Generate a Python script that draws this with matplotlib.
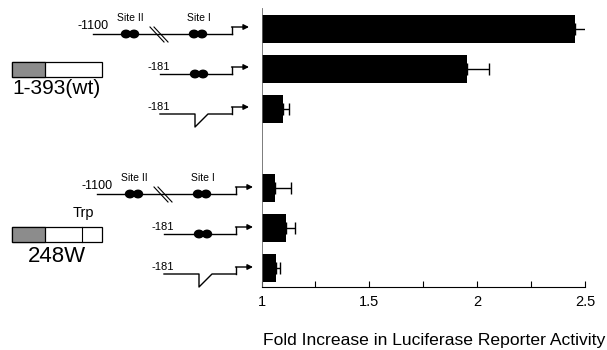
import matplotlib.pyplot as plt
from matplotlib.patches import Ellipse, Rectangle

plt.rcParams["font.family"] = ["Liberation Sans", "DejaVu Sans"]

# Fold increase per construct (top: wt 1-393, bottom: 248W)
positions = [0, 1, 2, 4, 5, 6]
fold_values = [2.454, 1.955, 1.10, 1.063, 1.114, 1.067]
fold_errors = [0.081, 0.10, 0.029, 0.072, 0.040, 0.020]
promoter_kinds = ["long", "short", "deleted", "long", "short", "deleted"]
protein_labels = ["1-393(wt)", "248W"]
x_ticks = [1, 1.5, 2, 2.5]
x_tick_labels = ["1", "1.5", "2", "2.5"]
x_minor = [1.25, 1.75, 2.25]

W, H = 607, 350
fig = plt.figure(figsize=(W / 100, H / 100), dpi=100)

# overlay in pixel units for the schematic drawings
ov = fig.add_axes([0, 0, 1, 1])
ov.set_xlim(0, W)
ov.set_ylim(H, 0)
ov.axis("off")

ax = fig.add_axes([261.5 / W, 1 - 287 / H, (585 - 261.5) / W, 279 / H])
ax.barh(
    positions,
    [v - 1 for v in fold_values],
    left=1,
    height=0.7,
    color="black",
    xerr=[[0] * len(fold_errors), fold_errors],
    error_kw=dict(ecolor="black", elinewidth=1.0, capsize=4, capthick=1.0),
)
ax.set_xlim(1, 2.5)
ax.set_ylim(6.475, -0.525)
ax.set_xticks(x_ticks)
ax.set_xticklabels(x_tick_labels, fontsize=10.5)
ax.set_xticks(x_minor, minor=True)
ax.tick_params(axis="x", which="both", direction="in", length=4, width=0.8, pad=6)
ax.set_yticks([])
ax.spines["top"].set_visible(False)
ax.spines["right"].set_visible(False)
ax.spines["left"].set_color("#666666")
ax.spines["left"].set_linewidth(0.6)
fig.text(434 / W, 1 - 340 / H, "Fold Increase in Luciferase Reporter Activity",
         ha="center", va="center", fontsize=12.6)

LW = 1.0


def dots(x0, y):
    for cx in (x0, x0 + 8):
        ov.add_patch(Ellipse((cx, y), 9, 7.5, color="black"))


def start_arrow(xc, y):
    ov.plot([xc, xc], [y, y - 7], color="black", lw=LW)
    ov.annotate("", xy=(xc + 17, y - 7), xytext=(xc - 0.5, y - 7),
                arrowprops=dict(arrowstyle="-|>", color="black", lw=LW,
                                mutation_scale=8, shrinkA=0, shrinkB=0))


def draw_promoter(kind, y, dx):
    if kind == "long":
        ov.text(77 + dx, y - 2, "-1100", fontsize=9, ha="left", va="bottom")
        ov.plot([93 + dx, 232 + dx], [y, y], color="black", lw=LW)
        dots(126 + dx, y)
        dots(194 + dx, y)
        for s in (0, 4):
            ov.plot([150 + dx + s, 164 + dx + s], [y - 7, y + 8], color="black", lw=0.8)
        ov.text(130 + dx, y - 11, "Site II", fontsize=7.5, ha="center", va="bottom")
        ov.text(199 + dx, y - 11, "Site I", fontsize=7.5, ha="center", va="bottom")
    elif kind == "short":
        ov.text(147 + dx, y - 2, "-181", fontsize=8, ha="left", va="bottom")
        ov.plot([160 + dx, 232 + dx], [y, y], color="black", lw=LW)
        dots(195 + dx, y)
    else:
        ov.text(147 + dx, y - 2, "-181", fontsize=8, ha="left", va="bottom")
        ov.plot([160 + dx, 195 + dx, 195 + dx, 208 + dx, 232 + dx],
                [y, y, y + 13, y, y], color="black", lw=LW)
    start_arrow(232 + dx, y)


for pos, kind in zip(positions, promoter_kinds):
    y_px = 8 + (pos + 0.525) * 40 + 5
    draw_promoter(kind, y_px, 0 if pos < 3 else 4)

# protein boxes
for (top, label, label_y, fs) in [(62, protein_labels[0], 89, 15),
                                  (227, protein_labels[1], 257, 16)]:
    ov.add_patch(Rectangle((12, top), 90, 15, facecolor="white",
                           edgecolor="black", lw=0.9))
    ov.add_patch(Rectangle((12, top), 33, 15, facecolor="#8c8c8c",
                           edgecolor="black", lw=0.9))
    ov.text(57, label_y, label, fontsize=fs, ha="center", va="center")
ov.plot([82, 82], [227, 242], color="black", lw=0.8)
ov.text(83, 213, "Trp", fontsize=10.5, ha="center", va="center")

fig.savefig("out.png", dpi=100)
